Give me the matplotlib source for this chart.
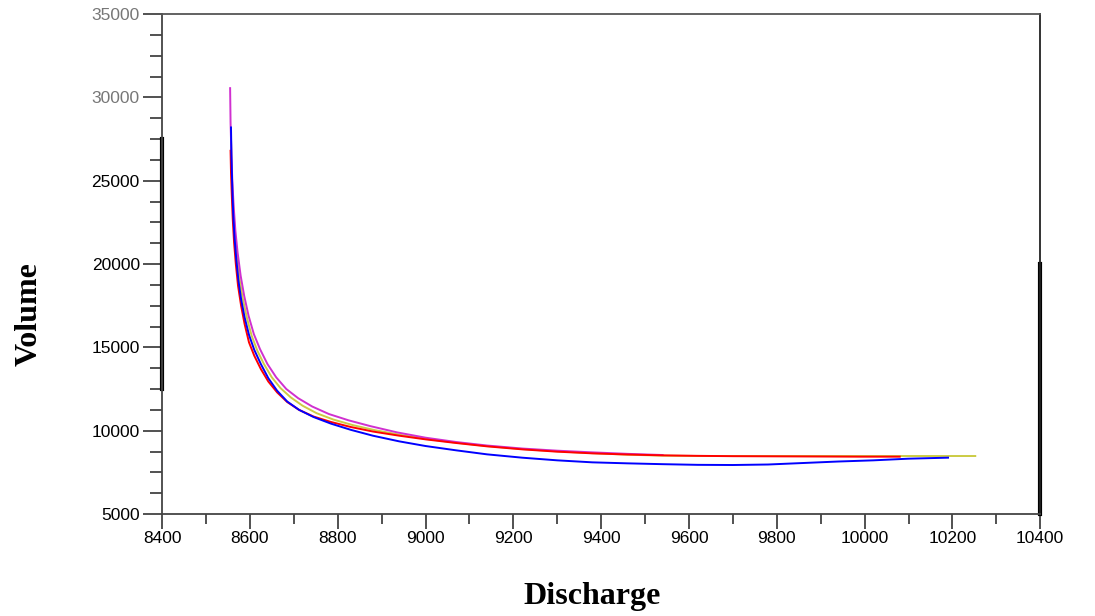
import matplotlib
matplotlib.use("Agg")
import matplotlib.pyplot as plt
from matplotlib.ticker import MultipleLocator

# ---- data ----
blue_x = [8557, 8558, 8560, 8562, 8565, 8569, 8574, 8580, 8588, 8598, 8610, 8625, 8642, 8662, 8685,
          8712, 8745, 8785, 8830, 8880, 8940, 9000, 9070, 9140, 9220, 9300, 9380, 9460, 9540, 9620,
          9700, 9780, 9860, 9940, 10020, 10100, 10190]
blue_y = [28200, 26500, 24500, 23000, 21600, 20300, 19000, 17900, 16800, 15750, 14850, 14000, 13150, 12400, 11750,
          11250, 10820, 10420, 10050, 9700, 9360, 9080, 8820, 8580, 8380, 8220, 8100, 8040, 7990, 7950,
          7940, 7970, 8060, 8150, 8220, 8320, 8380]

red_x = [8556, 8557, 8559, 8561, 8564, 8568, 8573, 8580, 8588, 8598, 8610, 8625, 8642, 8662, 8685,
         8712, 8745, 8785, 8830, 8880, 8940, 9000, 9070, 9140, 9220, 9300, 9380, 9460, 9540, 9620,
         9700, 9800, 9900, 9990, 10080]
red_y = [26800, 25500, 24000, 22700, 21300, 20000, 18700, 17500, 16400, 15300, 14500, 13700, 12950, 12300, 11720,
         11250, 10850, 10520, 10220, 9950, 9700, 9480, 9260, 9060, 8880, 8740, 8640, 8570, 8520, 8490,
         8470, 8460, 8450, 8440, 8440]

yellow_x = [8557, 8558, 8560, 8563, 8566, 8571, 8577, 8584, 8593, 8604, 8617, 8632, 8650, 8670, 8693,
            8720, 8752, 8790, 8835, 8885, 8945, 9005, 9070, 9140, 9220, 9300, 9380, 9460, 9540, 9620,
            9700, 9900, 10100, 10252]
yellow_y = [27600, 26000, 24500, 23000, 21700, 20300, 19000, 17900, 16800, 15700, 14800, 14000, 13200, 12550, 12000,
            11500, 11050, 10670, 10330, 10030, 9740, 9500, 9280, 9080, 8900, 8760, 8650, 8560, 8500, 8480,
            8480, 8480, 8480, 8480]

magenta_x = [8555, 8556, 8558, 8560, 8563, 8567, 8572, 8579, 8587, 8597, 8609, 8623, 8640, 8660, 8683,
             8710, 8742, 8780, 8825, 8875, 8935, 9000, 9070, 9140, 9220, 9300, 9380, 9460, 9540]
magenta_y = [30560, 28500, 26500, 25000, 23500, 22000, 20700, 19300, 18100, 16900, 15800, 14900, 14000, 13200, 12500,
             11950, 11450, 11000, 10620, 10270, 9900, 9580, 9320, 9110, 8930, 8800, 8700, 8610, 8540]

series = [
    (yellow_x, yellow_y, "#cccc44"),
    (magenta_x, magenta_y, "#d030d0"),
    (red_x, red_y, "#ff0000"),
    (blue_x, blue_y, "#0000ff"),
]

x_ticks = [8400, 8600, 8800, 9000, 9200, 9400, 9600, 9800, 10000, 10200, 10400]
y_ticks = [5000, 10000, 15000, 20000, 25000, 30000, 35000]

# ---- figure ----
fig = plt.figure(figsize=(10.95, 6.16), dpi=100)
ax = fig.add_axes([0.148, 0.1656, 0.802, 0.8114])

for xs, ys, c in series:
    ax.plot(xs, ys, color=c, lw=1.4, solid_joinstyle="round")

ax.set_xlim(8400, 10400)
ax.set_ylim(5000, 35000)
ax.set_xticks(x_ticks)
ax.set_yticks(y_ticks)
ax.xaxis.set_minor_locator(MultipleLocator(100))
ax.yaxis.set_minor_locator(MultipleLocator(1250))

tick_font = dict(family="Liberation Sans", size=12.5)
ax.set_xticklabels([str(v) for v in x_ticks], **tick_font)
ax.set_yticklabels([str(v) for v in y_ticks], **tick_font)
for lbl in ax.get_yticklabels()[-2:]:
    lbl.set_color("#777777")

ax.tick_params(axis="y", which="major", length=14, width=1.2, color="#333333", direction="out", pad=2)
ax.tick_params(axis="y", which="minor", length=9, width=1.2, color="#333333", direction="out")
ax.tick_params(axis="x", which="major", length=11, width=1.2, color="#333333", direction="out", pad=1)
ax.tick_params(axis="x", which="minor", length=7, width=1.2, color="#333333", direction="out")

ax.spines["top"].set_color("#555555")
ax.spines["left"].set_color("#444444")
ax.spines["right"].set_color("#222222")
ax.spines["bottom"].set_color("#444444")
for s in ax.spines.values():
    s.set_linewidth(1.3)

# thick spine artifacts seen in the reference
ax.axvline(8400, ymin=(12500 - 5000) / 30000, ymax=(27500 - 5000) / 30000, color="black", lw=3, clip_on=False)
ax.axvline(10400, ymin=0, ymax=(20000 - 5000) / 30000, color="black", lw=3, clip_on=False)

label_font = dict(family="Liberation Serif", weight="bold", size=23)
fig.text(0.027, 0.49, "Volume", rotation=90, ha="center", va="center", **label_font)
fig.text(0.541, 0.032, "Discharge", ha="center", va="center", **label_font)

fig.savefig("out.png", dpi=100)
